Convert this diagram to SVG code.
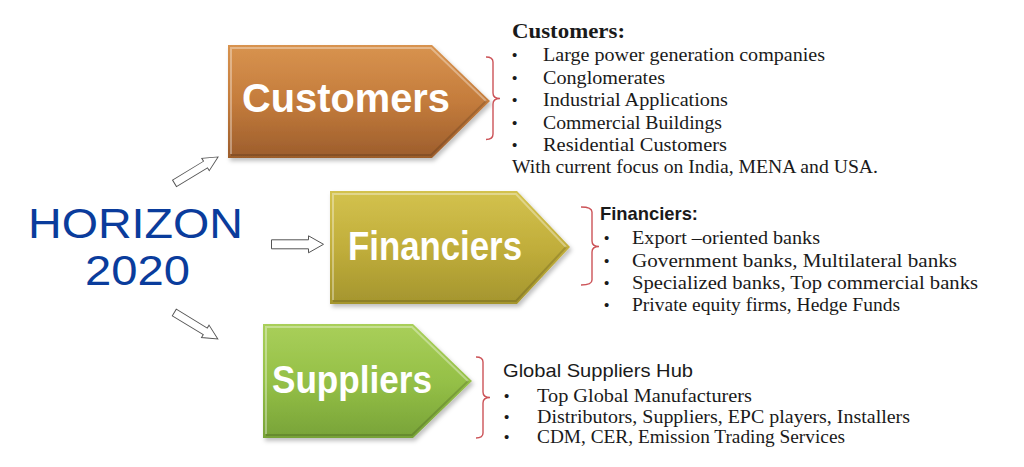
<svg xmlns="http://www.w3.org/2000/svg" width="1024" height="467" viewBox="0 0 1024 467">
  <style>
    .lbl { font-family: "Liberation Sans", Arial, sans-serif; font-weight: bold; fill: #ffffff; }
    .s { font-family: "Liberation Serif", "Times New Roman", serif; font-size: 19px; fill: #1a1a1a; }
    .sh { font-family: "Liberation Serif", "Times New Roman", serif; font-size: 21px; font-weight: bold; fill: #1a1a1a; }
    .ss { font-family: "Liberation Sans", Arial, sans-serif; font-size: 19px; fill: #1a1a1a; }
    .b { font-family: "Liberation Sans", Arial, sans-serif; font-size: 15px; fill: #1a1a1a; }
    .brace { fill: none; stroke: #cc5358; stroke-width: 1.4; }
    .conn { fill: #ffffff; stroke: #555555; stroke-width: 1; }
    .hz { font-family: "Liberation Sans", Arial, sans-serif; font-size: 42px; fill: #0a3c9c; }
    .hi { fill: none; stroke: #ffffff; stroke-opacity: 0.35; stroke-width: 2; }
    .lo { fill: none; stroke: #000000; stroke-opacity: 0.15; stroke-width: 2; }
  </style>
  <defs>
    <linearGradient id="gC" x1="0" y1="0" x2="0" y2="1">
      <stop offset="0" stop-color="#d8934f"/>
      <stop offset="0.5" stop-color="#c47c3c"/>
      <stop offset="1" stop-color="#9c5d2c"/>
    </linearGradient>
    <linearGradient id="gF" x1="0" y1="0" x2="0" y2="1">
      <stop offset="0" stop-color="#d3c24e"/>
      <stop offset="0.5" stop-color="#c1ae3b"/>
      <stop offset="1" stop-color="#a4952e"/>
    </linearGradient>
    <linearGradient id="gS" x1="0" y1="0" x2="0" y2="1">
      <stop offset="0" stop-color="#a9cf5a"/>
      <stop offset="0.5" stop-color="#95c047"/>
      <stop offset="1" stop-color="#78a338"/>
    </linearGradient>
    <filter id="shadow" x="-10%" y="-10%" width="125%" height="130%">
      <feDropShadow dx="2" dy="3" stdDeviation="2" flood-color="#000000" flood-opacity="0.25"/>
    </filter>
    <path id="blk" d="M0,-4.5 H37 V-8.5 L52,0 L37,8.5 V4.5 H0 Z"/>
  </defs>

  <g id="horizon">
    <text class="hz" x="28" y="238" textLength="215" lengthAdjust="spacingAndGlyphs">HORIZON</text>
    <text class="hz" x="85" y="285" textLength="105" lengthAdjust="spacingAndGlyphs">2020</text>
  </g>

  <g id="connectors">
    <use href="#blk" class="conn" transform="translate(174.5,183.3) rotate(-31.2) scale(0.98,0.85)"/>
    <use href="#blk" class="conn" transform="translate(271.5,244.3)"/>
    <use href="#blk" class="conn" transform="translate(174.3,312.5) rotate(31.3) scale(0.98,0.85)"/>
  </g>

  <g id="customers">
    <polygon points="228,45 432,45 490,101 432,158 228,158" fill="url(#gC)" filter="url(#shadow)"/>
    <polyline class="hi" points="231,154 231,48 431,48 486,101"/>
    <polyline class="lo" points="486,101 431,155 231,155"/>
    <text class="lbl" x="242" y="112" font-size="40" textLength="208" lengthAdjust="spacingAndGlyphs">Customers</text>
  </g>

  <g id="financiers">
    <polygon points="330,191 517,191 570,247 517,304 330,304" fill="url(#gF)" filter="url(#shadow)"/>
    <polyline class="hi" points="333,300 333,194 516,194 566,247"/>
    <polyline class="lo" points="566,247 516,301 333,301"/>
    <text class="lbl" x="348" y="260" font-size="41" textLength="174" lengthAdjust="spacingAndGlyphs">Financiers</text>
  </g>

  <g id="suppliers">
    <polygon points="263,324 413,324 472,381 413,438 263,438" fill="url(#gS)" filter="url(#shadow)"/>
    <polyline class="hi" points="266,434 266,327 412,327 468,381"/>
    <polyline class="lo" points="468,381 412,435 266,435"/>
    <text class="lbl" x="272" y="393" font-size="38" textLength="160" lengthAdjust="spacingAndGlyphs">Suppliers</text>
  </g>

  <g id="customers-detail">
    <path class="brace" d="M486,57 Q493,57 493,62 V93 Q493,98.5 500,98.5 Q493,98.5 493,104 V134 Q493,139.5 486,139.5"/>
    <text class="sh" x="512" y="38" textLength="113" lengthAdjust="spacingAndGlyphs">Customers:</text>
    <text class="b" x="512" y="60">•</text>
    <text class="b" x="512" y="82.5">•</text>
    <text class="b" x="512" y="105">•</text>
    <text class="b" x="512" y="127.5">•</text>
    <text class="b" x="512" y="149.5">•</text>
    <text class="s" x="543" y="61" textLength="282" lengthAdjust="spacingAndGlyphs">Large power generation companies</text>
    <text class="s" x="543" y="83.5" textLength="122" lengthAdjust="spacingAndGlyphs">Conglomerates</text>
    <text class="s" x="543" y="106" textLength="185" lengthAdjust="spacingAndGlyphs">Industrial Applications</text>
    <text class="s" x="543" y="128.5" textLength="179" lengthAdjust="spacingAndGlyphs">Commercial Buildings</text>
    <text class="s" x="543" y="150.5" textLength="184" lengthAdjust="spacingAndGlyphs">Residential Customers</text>
    <text class="s" x="512" y="172.5" textLength="366" lengthAdjust="spacingAndGlyphs">With current focus on India, MENA and USA.</text>
  </g>

  <g id="financiers-detail">
    <path class="brace" d="M581,207 Q592,207 592,212 V241 Q592,246.5 599,246.5 Q592,246.5 592,252 V280 Q592,285 581,285"/>
    <text class="ss" x="600" y="220" font-weight="bold" textLength="98" lengthAdjust="spacingAndGlyphs">Financiers:</text>
    <text class="b" x="604" y="243">•</text>
    <text class="b" x="604" y="265.5">•</text>
    <text class="b" x="604" y="287.5">•</text>
    <text class="b" x="604" y="309.5">•</text>
    <text class="s" x="632" y="244" textLength="188" lengthAdjust="spacingAndGlyphs">Export –oriented banks</text>
    <text class="s" x="632" y="266.5" textLength="325" lengthAdjust="spacingAndGlyphs">Government banks, Multilateral banks</text>
    <text class="s" x="632" y="288.5" textLength="346" lengthAdjust="spacingAndGlyphs">Specialized banks, Top commercial banks</text>
    <text class="s" x="632" y="310.5" textLength="268" lengthAdjust="spacingAndGlyphs">Private equity firms, Hedge Funds</text>
  </g>

  <g id="suppliers-detail">
    <path class="brace" d="M476,357 Q483,357 483,362 V392 Q483,397.5 490,397.5 Q483,397.5 483,403 V433 Q483,438 476,438"/>
    <text class="ss" x="503" y="377" textLength="190" lengthAdjust="spacingAndGlyphs">Global Suppliers Hub</text>
    <text class="b" x="504" y="401">•</text>
    <text class="b" x="504" y="421.5">•</text>
    <text class="b" x="504" y="442">•</text>
    <text class="s" x="537" y="402" textLength="215" lengthAdjust="spacingAndGlyphs">Top Global Manufacturers</text>
    <text class="s" x="537" y="422.5" textLength="373" lengthAdjust="spacingAndGlyphs">Distributors, Suppliers, EPC players, Installers</text>
    <text class="s" x="537" y="443" textLength="308" lengthAdjust="spacingAndGlyphs">CDM, CER, Emission Trading Services</text>
  </g>
</svg>
